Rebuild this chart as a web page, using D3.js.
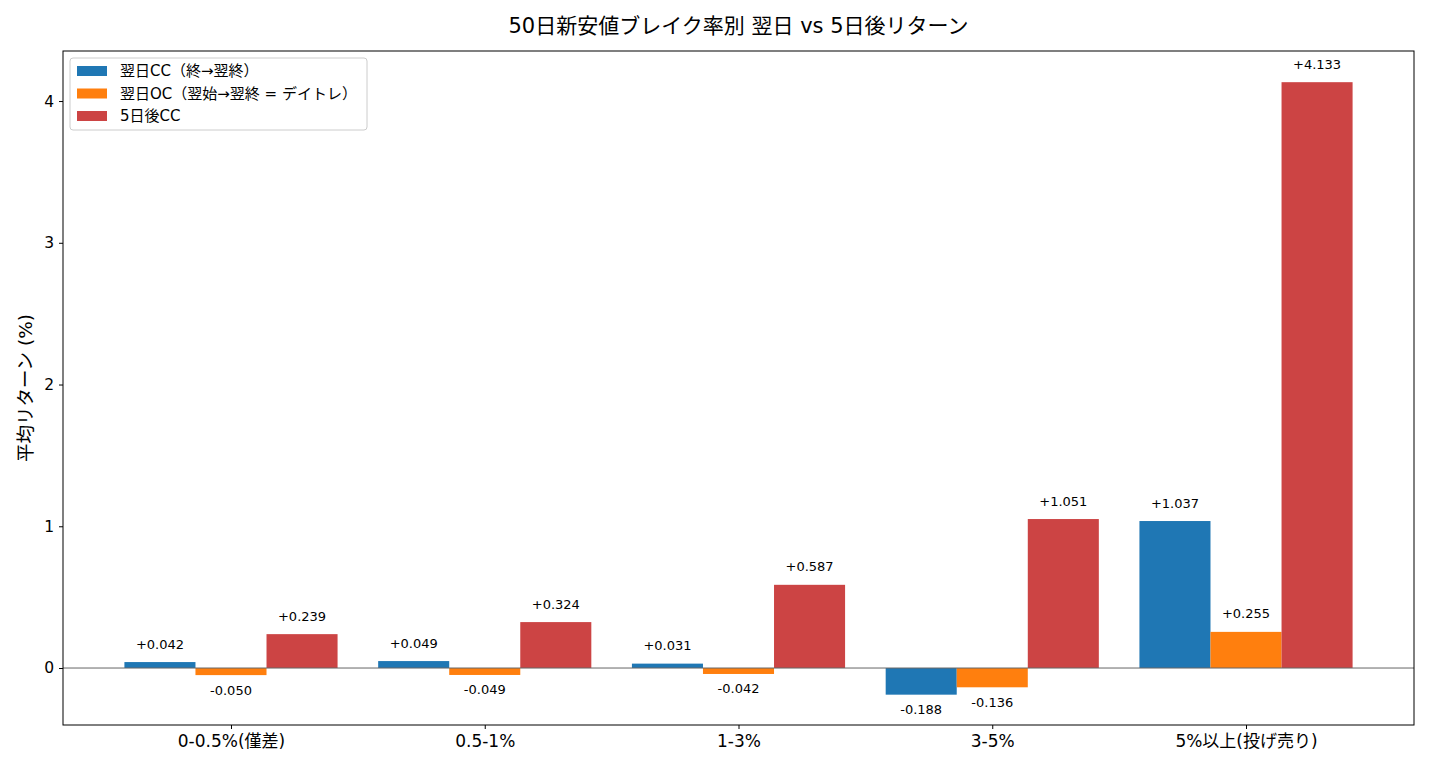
<!DOCTYPE html>
<html><head><meta charset="utf-8">
<script src="https://cdn.jsdelivr.net/npm/d3@7"></script>
<style>body{margin:0;background:#fff}svg{display:block}text{font-family:"DejaVu Sans","Noto Sans CJK JP",sans-serif}</style>
</head><body><svg id="c" width="1430" height="770"></svg>
<script>
const categories = ["0-0.5%(僅差)", "0.5-1%", "1-3%", "3-5%", "5%以上(投げ売り)"];
const seriesNames = ["翌日CC（終→翌終）", "翌日OC（翌始→翌終 = デイトレ）", "5日後CC"];
const seriesColors = ["#1f77b4", "#ff7f0e", "#cc4444"];
const nextCC = [0.042, 0.049, 0.031, -0.188, 1.037];
const nextOC = [-0.050, -0.049, -0.042, -0.136, 0.255];
const day5CC = [0.239, 0.324, 0.587, 1.051, 4.133];
const yTicks = [0, 1, 2, 3, 4];
const series = [nextCC, nextOC, day5CC];

const svg = d3.select("#c");
const L = 63, R = 1414, T = 51, B = 725;
const x = d3.scaleLinear().domain([-0.662, categories.length - 1 + 0.662]).range([L, R]);
const y = d3.scaleLinear().domain([-0.402, 4.353]).range([B, T]);
const bw = 0.28;

// bars
series.forEach((vals, si) => {
  const off = (si - 1) * bw;
  svg.append("g").selectAll("rect").data(vals).enter().append("rect")
    .attr("x", (d, i) => x(i + off - bw / 2))
    .attr("width", x(bw) - x(0))
    .attr("y", d => y(Math.max(0, d)))
    .attr("height", d => Math.abs(y(d) - y(0)))
    .attr("fill", seriesColors[si]);
  svg.append("g").selectAll("text").data(vals).enter().append("text")
    .attr("x", (d, i) => x(i + off))
    .attr("y", d => d >= 0 ? y(d) - 18 : y(d) + 15)
    .attr("dominant-baseline", "central")
    .attr("text-anchor", "middle")
    .attr("font-size", 13)
    .attr("fill", "#000")
    .text(d => (d >= 0 ? "+" : "") + d.toFixed(3));
});

// zero line
svg.append("line").attr("x1", L).attr("x2", R).attr("y1", y(0)).attr("y2", y(0))
  .attr("stroke", "#666").attr("stroke-width", 1);

// axes
const yAxis = d3.axisLeft(y).tickValues(yTicks).tickFormat(d3.format("d")).tickSize(4).tickPadding(5);
const gy = svg.append("g").attr("transform", `translate(${L},0)`).call(yAxis);
gy.select(".domain").remove();
gy.selectAll("text").attr("font-size", 15.5).attr("fill", "#000");
gy.selectAll("line").attr("stroke", "#000");

const xAxis = d3.axisBottom(x).tickValues(d3.range(categories.length)).tickFormat(i => categories[i]).tickSize(4).tickPadding(6);
const gx = svg.append("g").attr("transform", `translate(0,${B})`).call(xAxis);
gx.select(".domain").remove();
gx.selectAll("text").attr("font-size", 17).attr("fill", "#000");
gx.selectAll("line").attr("stroke", "#000");

svg.append("rect").attr("x", L).attr("y", T).attr("width", R - L).attr("height", B - T)
  .attr("fill", "none").attr("stroke", "#000").attr("stroke-width", 1);

// title
svg.append("text").attr("x", (L + R) / 2).attr("y", 26).attr("text-anchor", "middle")
  .attr("dominant-baseline", "central").attr("font-size", 21).text("50日新安値ブレイク率別 翌日 vs 5日後リターン");
// y label
svg.append("text").attr("transform", `translate(25,${(T + B) / 2}) rotate(-90)`)
  .attr("text-anchor", "middle").attr("dominant-baseline", "central").attr("font-size", 18.5)
  .text("平均リターン (%)");

// legend
const lg = svg.append("g");
lg.append("rect").attr("x", 70).attr("y", 58).attr("width", 297).attr("height", 72).attr("rx", 3)
  .attr("fill", "#fff").attr("fill-opacity", 0.8).attr("stroke", "#ccc");
seriesNames.forEach((n, i) => {
  const cy = 71 + i * 22.5;
  lg.append("rect").attr("x", 77).attr("y", cy - 5).attr("width", 30).attr("height", 10).attr("fill", seriesColors[i]);
  lg.append("text").attr("x", 120).attr("y", cy).attr("dominant-baseline", "central").attr("font-size", 15).text(n);
});
</script></body></html>
